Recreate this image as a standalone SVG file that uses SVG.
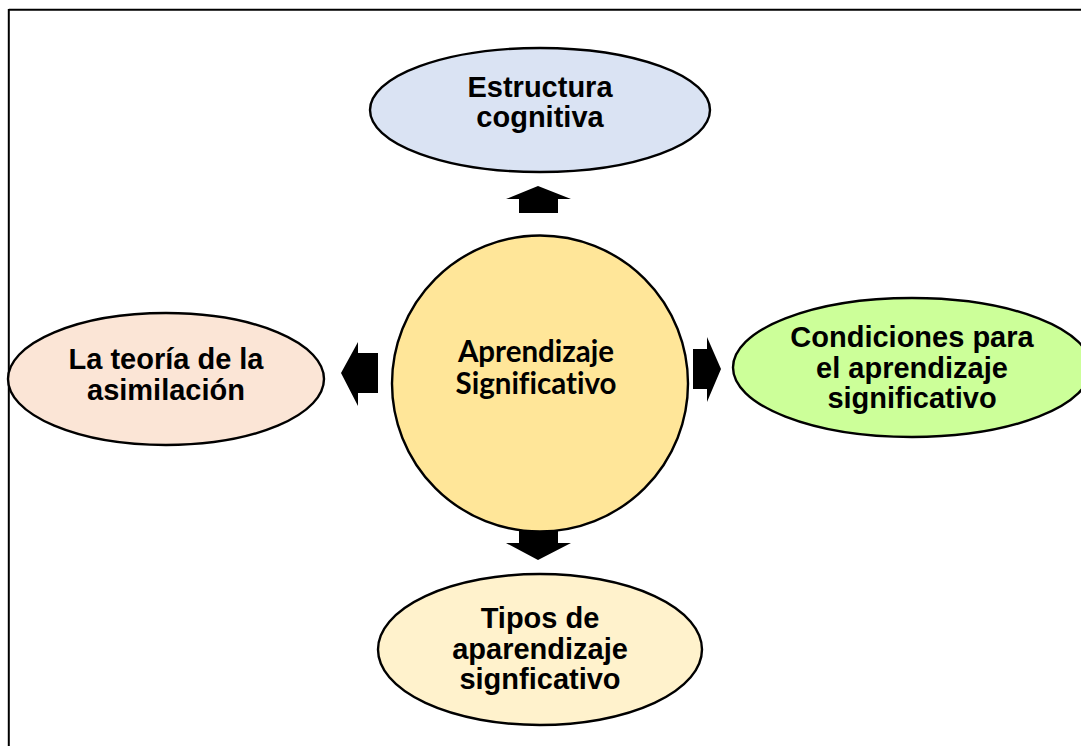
<svg xmlns="http://www.w3.org/2000/svg" width="1081" height="746" viewBox="0 0 1081 746">
<style>
.node{stroke:#000;stroke-width:2.4}
.t{font-family:"Liberation Sans",Arial,sans-serif;font-weight:bold;font-size:29px;fill:#000;text-anchor:middle}
.tc{font-family:Lato,"Open Sans",sans-serif;font-weight:bold;font-size:29.5px;fill:#000;text-anchor:middle;font-variant-ligatures:none}
.arr{fill:#000}
</style>
<rect width="1081" height="746" fill="#fff"/>
<g id="frame" stroke="#000" stroke-width="2" fill="none">
<line x1="8.8" y1="9.8" x2="1081" y2="9.8"/>
<line x1="8.8" y1="9" x2="8.8" y2="746"/>
</g>
<g id="connectors">
<polygon class="arr" points="538,186 571,199 558,199 558,213 519,213 519,199 506,199"/>
<polygon class="arr" points="519,529 558,529 558,543 571,543 538,560 506,543 519,543"/>
<polygon class="arr" points="341,373 358,342 358,353 378,353 378,393 358,393 358,406"/>
<polygon class="arr" points="693,349 707,349 707,337 721,369 707,402 707,389 693,389"/>
</g>
<g id="center">
<circle class="node" cx="540" cy="383.5" r="148" fill="#ffe699"/>
<text class="tc" x="536" y="362">Aprendizaje</text>
<text class="tc" x="536" y="394">Significativo</text>
</g>
<g id="estructura">
<ellipse class="node" cx="540" cy="110" rx="170" ry="62" fill="#dae3f3"/>
<text class="t" x="540" y="97">Estructura</text>
<text class="t" x="540" y="127">cognitiva</text>
</g>
<g id="teoria">
<ellipse class="node" cx="166" cy="379" rx="158" ry="66" fill="#fbe5d6"/>
<text class="t" x="166" y="369">La teoría de la</text>
<text class="t" x="166" y="400">asimilación</text>
</g>
<g id="condiciones">
<ellipse class="node" cx="912" cy="367.5" rx="179" ry="69.5" fill="#ccff99"/>
<text class="t" x="912" y="347">Condiciones para</text>
<text class="t" x="912" y="378">el aprendizaje</text>
<text class="t" x="912" y="408">significativo</text>
</g>
<g id="tipos">
<ellipse class="node" cx="540" cy="649.5" rx="162" ry="75.5" fill="#fff2cc"/>
<text class="t" x="540" y="628">Tipos de</text>
<text class="t" x="540" y="659">aparendizaje</text>
<text class="t" x="540" y="689">signficativo</text>
</g>
</svg>
